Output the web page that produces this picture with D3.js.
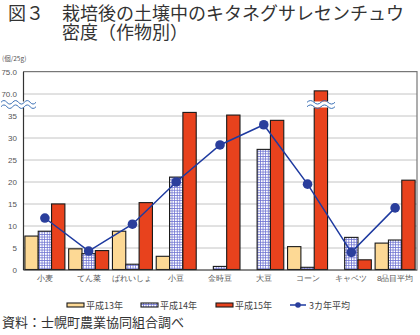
<!DOCTYPE html>
<html>
<head>
<meta charset="utf-8">
<script src="https://cdn.jsdelivr.net/npm/d3@7"></script>
<style>
  body { margin: 0; background: #fff; }
  svg { display: block; font-family: "Noto Sans CJK JP", sans-serif; }
  .tick text { fill: #555; font-size: 8px; }
</style>
</head>
<body>
<svg width="420" height="335"></svg>
<script>
const crops = ['小麦', 'てん菜', 'ばれいしょ', '小豆', '金時豆', '大豆', 'コーン', 'キャベツ', '8品目平均'];
const h13 = [7.6, 4.7, 8.7, 3.0, 0, 0, 5.2, 0, 6.0];
const h14 = [8.7, 3.6, 1.2, 21.0, 0.7, 27.3, 0.5, 7.3, 6.7];
const h15 = [14.9, 4.3, 15.2, 35.7, 35.1, 33.9, 70.6, 2.2, 20.3];
const avg3 = [11.7, 4.2, 10.3, 19.9, 28.3, 32.9, 19.4, 3.9, 14.0];
const yTicks = [0, 5, 10, 15, 20, 25, 30, 35, 70, 75];
const seriesNames = ['平成13年', '平成14年', '平成15年'];

const svg = d3.select('svg');

const plotL = 23;
const plotR = 417;
const plotT = 71.5;
const plotB = 269.5;

// pattern for 平成14年
const defs = svg.append('defs');
const pat = defs.append('pattern')
    .attr('id', 'grid')
    .attr('width', 2.6)
    .attr('height', 2.6)
    .attr('patternUnits', 'userSpaceOnUse');
pat.append('rect').attr('width', 2.6).attr('height', 2.6).attr('fill', '#fff');
pat.append('path').attr('d', 'M0,0.4H2.6M0.4,0V2.6')
    .attr('stroke', '#6a6fd0').attr('stroke-width', 0.8);

const fills = ['#fdd995', 'url(#grid)', '#e8421d'];

// axis break: 35 -> 40 on paper, 40 == 70
const unit = (plotB - plotT) / 45;
const yScale = d3.scaleLinear()
    .domain([0, 40, 70, 75])
    .range([plotB, plotB - 40 * unit, plotB - 40 * unit, plotT]);

const xScale = d3.scaleBand()
    .domain(crops)
    .range([plotL, plotR]);

const groupW = 40;
const xSub = d3.scaleBand()
    .domain(seriesNames)
    .range([0, groupW]);

// title
const title = svg.append('g').attr('fill', '#333').style('font-size', '18px');
title.append('text').attr('x', 8).attr('y', 20).text('図３');
const t2 = title.append('text');
t2.append('tspan').attr('x', 62).attr('y', 20)
    .text('栽培後の土壌中のキタネグサレセンチュウ');
t2.append('tspan').attr('x', 62).attr('y', 39).text('密度（作物別）');

svg.append('text')
    .attr('x', 2)
    .attr('y', 61)
    .attr('fill', '#555')
    .style('font-size', '6.5px')
    .text('(個/25g)');

// grid lines
svg.append('g')
    .attr('transform', `translate(${plotL},0)`)
    .call(d3.axisLeft(yScale).tickValues(yTicks).tickSize(-(plotR - plotL)).tickFormat(''))
    .call(g => g.select('.domain').remove())
    .call(g => g.selectAll('.tick line').attr('stroke', '#c4c4c4').attr('stroke-width', 1));

// frame
svg.append('path')
    .attr('d', `M${plotL},${plotT}H${plotR}V${plotB}`)
    .attr('fill', 'none')
    .attr('stroke', '#777')
    .attr('stroke-width', 1.2);

// y axis
svg.append('g')
    .attr('transform', `translate(${plotL},0)`)
    .call(d3.axisLeft(yScale).tickValues(yTicks).tickSize(0).tickPadding(6)
        .tickFormat(d => d >= 70 ? d.toFixed(1) : d))
    .call(g => g.select('.domain').attr('stroke', '#333').attr('stroke-width', 1.2));

// bars
const series = [h13, h14, h15];
series.forEach((vals, si) => {
    svg.append('g')
        .selectAll('rect')
        .data(vals.map((v, i) => ({ crop: crops[i], v })).filter(d => d.v > 0))
        .enter()
        .append('rect')
        .attr('x', d => xScale(d.crop) + (xScale.bandwidth() - groupW) / 2 + xSub(seriesNames[si]))
        .attr('y', d => yScale(d.v))
        .attr('width', xSub.bandwidth())
        .attr('height', d => plotB - yScale(d.v))
        .attr('fill', fills[si])
        .attr('stroke', '#1a1a1a')
        .attr('stroke-width', 1.1);
});

// x axis
svg.append('g')
    .attr('transform', `translate(0,${plotB})`)
    .call(d3.axisBottom(xScale).tickSize(0).tickPadding(6))
    .call(g => g.select('.domain').attr('stroke', '#333').attr('stroke-width', 1.2));

// average line
const cx = d => xScale(d) + xScale.bandwidth() / 2;
const line = d3.line()
    .x((d, i) => cx(crops[i]))
    .y(d => yScale(d));

svg.append('path')
    .datum(avg3)
    .attr('d', line)
    .attr('fill', 'none')
    .attr('stroke', '#1e3aa0')
    .attr('stroke-width', 1.5);

svg.append('g')
    .selectAll('circle')
    .data(avg3)
    .enter()
    .append('circle')
    .attr('cx', (d, i) => cx(crops[i]))
    .attr('cy', d => yScale(d))
    .attr('r', 4.8)
    .attr('fill', '#2a3e9c');

// break marks
const wave = (x0, x1, y) => {
    let d = `M${x0},${y}`;
    const n = Math.round((x1 - x0) / 12);
    const w = (x1 - x0) / n;
    for (let k = 0; k < n; k++) {
        d += `q${w / 4},-3.5 ${w / 2},0 t${w / 2},0`;
    }
    return d;
};
const breakY = (yScale(35) + yScale(70)) / 2;
function drawBreak(x0, x1) {
    svg.append('rect')
        .attr('x', x0).attr('y', breakY - 3)
        .attr('width', x1 - x0).attr('height', 6)
        .attr('fill', '#fff');
    [-2.2, 2.2].forEach(o => {
        svg.append('path')
            .attr('d', wave(x0, x1, breakY + o))
            .attr('fill', 'none')
            .attr('stroke', '#3a6fb5')
            .attr('stroke-width', 1);
    });
}
drawBreak(1, 36);
drawBreak(307, 335);

// legend
const legend = svg.append('g').style('font-size', '9px').attr('fill', '#444');
const lx = [67, 141, 216];
seriesNames.forEach((name, i) => {
    legend.append('rect')
        .attr('x', lx[i]).attr('y', 303)
        .attr('width', 17).attr('height', 4)
        .attr('fill', fills[i])
        .attr('stroke', '#1a1a1a')
        .attr('stroke-width', 1.1);
    legend.append('text').attr('x', lx[i] + 19).attr('y', 308.5).text(name);
});
legend.append('line')
    .attr('x1', 290).attr('x2', 306).attr('y1', 305).attr('y2', 305)
    .attr('stroke', '#1e3aa0').attr('stroke-width', 1.5);
legend.append('circle').attr('cx', 298).attr('cy', 305).attr('r', 2.8).attr('fill', '#2a3e9c');
legend.append('text').attr('x', 309).attr('y', 308.5).text('3カ年平均');

svg.append('text')
    .attr('x', 2)
    .attr('y', 327)
    .attr('fill', '#333')
    .style('font-size', '13px')
    .text('資料：士幌町農業協同組合調べ');
</script>
</body>
</html>
